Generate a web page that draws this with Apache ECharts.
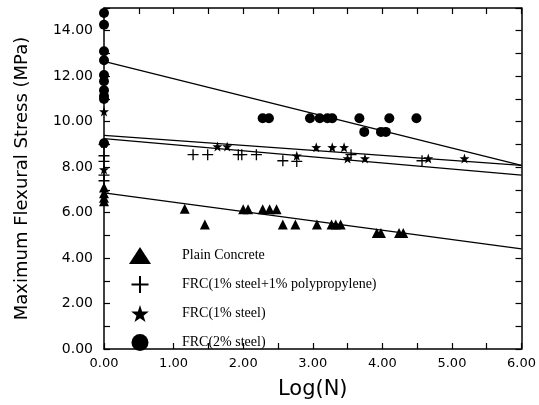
<!DOCTYPE html>
<html><head><meta charset="utf-8">
<script src="https://cdn.jsdelivr.net/npm/echarts@6/dist/echarts.min.js"></script>
<style>html,body{margin:0;padding:0;background:#fff}#c{width:539px;height:405px}</style>
</head><body><div id="c"></div>
<script>
// Data
const plainConcrete = [[0,7.1],[0,6.85],[0,6.65],[0,6.5],[1.16,6.17],[1.45,5.48],[2.0,6.15],[2.07,6.15],[2.28,6.15],[2.38,6.15],[2.48,6.15],[2.57,5.48],[2.75,5.48],[3.06,5.48],[3.27,5.48],[3.33,5.48],[3.4,5.48],[3.92,5.1],[3.98,5.1],[4.24,5.1],[4.3,5.1]];
const frcSteelPP = [[0,9.0],[0,8.5],[0,8.25],[0,7.65],[0,7.4],[1.28,8.55],[1.49,8.55],[1.93,8.55],[1.98,8.55],[2.19,8.55],[2.57,8.28],[2.77,8.25],[3.55,8.55],[4.57,8.28]];
const frcSteel1 = [[0,10.45],[0,9.05],[0,7.9],[1.63,8.91],[1.77,8.91],[2.77,8.5],[3.05,8.87],[3.28,8.87],[3.45,8.87],[3.5,8.38],[3.75,8.38],[4.66,8.38],[5.18,8.38]];
const frcSteel2 = [[0,14.78],[0,14.26],[0,13.1],[0,12.7],[0,12.05],[0,11.78],[0,11.38],[0,11.13],[0,11.0],[0,9.05],[2.28,10.15],[2.37,10.15],[2.96,10.15],[3.1,10.15],[3.21,10.15],[3.28,10.15],[3.67,10.15],[3.74,9.55],[3.98,9.55],[4.05,9.55],[4.1,10.15],[4.49,10.15]];
// Regression lines (endpoints at Log(N)=0 and 6)
const fitPlain = [[0,6.87],[6,4.4]];
const fitSteelPP = [[0,9.25],[6,7.65]];
const fitSteel1 = [[0,9.4],[6,8.08]];
const fitSteel2 = [[0,12.65],[6,8.08]];
const seriesNames = ['Plain Concrete','FRC(1% steel+1% polypropylene)','FRC(1% steel)','FRC(2% steel)'];

const plusPath = 'path://M0,4.4H10V5.6H0Z M4.4,0H5.6V10H4.4Z';
const starPath = 'path://M5,0L6.2,3.6L10,3.7L7,6L8.1,9.6L5,7.5L1.9,9.6L3,6L0,3.7L3.8,3.6Z';

const chart = echarts.init(document.getElementById('c'));
const axisCommon = {
  axisLine:{show:true,onZero:false,lineStyle:{color:'#000',width:1.5}},
  axisTick:{show:true,inside:true,length:6,lineStyle:{color:'#000',width:1.2}},
  splitLine:{show:false}
};
const mark = {color:'#000',opacity:1};
function lineSeries(d){return {type:'line',data:d,symbol:'none',silent:true,lineStyle:{color:'#000',width:1.3},z:1};}
chart.setOption({
  animation:false,
  backgroundColor:'#fff',
  grid:{left:104,right:16,top:8,bottom:52},
  legend:{
    orient:'vertical',left:124,top:242,itemGap:12,itemWidth:22,itemHeight:17,
    data:seriesNames,
    textStyle:{fontFamily:'Liberation Serif',fontSize:14,color:'#000',padding:[0,0,0,26]}
  },
  xAxis:[
    Object.assign({type:'value',min:0,max:6,interval:0.5,position:'bottom',
      name:'Log(N)',nameLocation:'middle',nameGap:30,
      nameTextStyle:{fontFamily:'DejaVu Sans',fontSize:21,color:'#000'},
      axisLabel:{fontFamily:'DejaVu Sans',fontSize:13,color:'#000',margin:8,
        formatter:v=>Math.abs(v-Math.round(v))<1e-9?v.toFixed(2):''}},axisCommon),
    Object.assign({type:'value',min:0,max:6,interval:0.5,position:'top',axisLabel:{show:false}},axisCommon)
  ],
  yAxis:[
    Object.assign({type:'value',min:0,max:15,interval:1,position:'left',
      name:'Maximum Flexural Stress (MPa)',nameLocation:'middle',nameGap:73,
      nameTextStyle:{fontFamily:'DejaVu Sans',fontSize:18,color:'#000'},
      axisLabel:{fontFamily:'DejaVu Sans',fontSize:14,color:'#000',margin:11,
        formatter:v=>v%2===0?v.toFixed(2):''}},axisCommon),
    Object.assign({type:'value',min:0,max:15,interval:1,position:'right',axisLabel:{show:false}},axisCommon)
  ],
  series:[
    {name:seriesNames[0],type:'scatter',data:plainConcrete,symbol:'triangle',symbolSize:10,itemStyle:mark,z:3},
    {name:seriesNames[1],type:'scatter',data:frcSteelPP,symbol:plusPath,symbolSize:11,itemStyle:mark,z:3},
    {name:seriesNames[2],type:'scatter',data:frcSteel1,symbol:starPath,symbolSize:10,itemStyle:mark,z:3},
    {name:seriesNames[3],type:'scatter',data:frcSteel2,symbol:'circle',symbolSize:10,itemStyle:mark,z:3},
    lineSeries(fitPlain),lineSeries(fitSteelPP),lineSeries(fitSteel1),lineSeries(fitSteel2)
  ]
});
</script></body></html>
